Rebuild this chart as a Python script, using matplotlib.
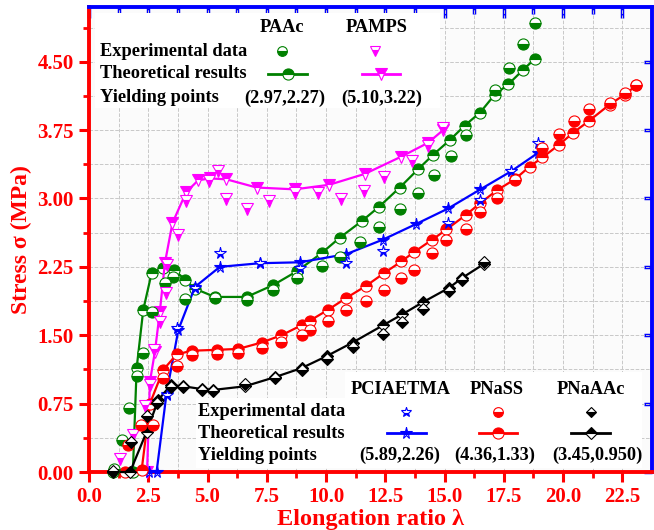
import matplotlib
matplotlib.use('Agg')
import matplotlib.pyplot as plt
from matplotlib.lines import Line2D
from matplotlib.patches import Rectangle

plt.rcParams['font.family'] = ['Liberation Serif', 'DejaVu Serif']
plt.rcParams['font.weight'] = 'bold'

# ---------------- data ----------------
# PAAc
paac_exp_x = [1.05, 1.40, 1.68, 2.01, 2.26, 2.64, 3.20, 3.55, 4.05, 5.31, 6.65, 7.77, 8.76, 9.81, 10.58,
              11.45, 12.24, 13.11, 13.88, 14.54, 15.25, 15.89, 17.12, 17.72, 18.31, 18.80]
paac_exp_y = [0.03, 0.35, 0.70, 1.05, 1.30, 1.75, 2.07, 2.14, 1.90, 1.91, 1.89, 2.00, 2.13, 2.26, 2.36,
              2.52, 2.69, 2.88, 3.06, 3.26, 3.47, 3.70, 4.19, 4.43, 4.69, 4.93]
paac_th_x = [1.00, 1.85, 2.01, 2.29, 2.64, 3.12, 3.58, 4.05, 4.47, 5.31, 6.65, 7.77, 8.76, 9.81, 10.58,
             11.50, 12.24, 13.11, 13.88, 14.52, 15.22, 15.85, 16.49, 17.12, 17.68, 18.31, 18.80]
paac_th_y = [0.00, 0.00, 1.14, 1.78, 2.18, 2.24, 2.22, 2.11, 2.01, 1.92, 1.92, 2.05, 2.20, 2.40, 2.57,
             2.75, 2.91, 3.12, 3.32, 3.48, 3.64, 3.80, 3.94, 4.14, 4.25, 4.41, 4.53]

# PAMPS
pamps_exp_x = [1.31, 1.87, 2.36, 2.57, 2.74, 2.99, 3.23, 3.27, 3.77, 4.11, 5.07, 5.45, 5.80, 6.65, 7.60,
               8.68, 9.67, 10.65, 11.61, 12.43, 13.64, 14.30, 14.94]
pamps_exp_y = [0.14, 0.41, 0.72, 0.95, 1.34, 1.65, 1.96, 2.27, 2.60, 2.97, 3.19, 3.30, 2.99, 2.88, 2.97,
               3.06, 3.06, 2.99, 3.08, 3.24, 3.41, 3.58, 3.77]
pamps_th_x = [2.45, 2.57, 2.78, 2.99, 3.20, 3.52, 4.10, 4.61, 5.10, 5.80, 7.07, 8.68, 10.13, 11.64, 13.18,
              14.30, 14.94]
pamps_th_y = [0.00, 0.99, 1.32, 1.76, 2.29, 2.73, 3.07, 3.20, 3.22, 3.21, 3.12, 3.10, 3.15, 3.27, 3.46,
              3.61, 3.75]

# PCIAETMA
pci_exp_x = [3.27, 3.70, 4.47, 5.52, 7.21, 8.90, 10.86, 12.41, 15.15, 16.51, 17.82, 18.94]
pci_exp_y = [0.85, 1.58, 2.02, 2.40, 2.29, 2.24, 2.29, 2.42, 2.73, 2.98, 3.30, 3.61]
pci_th_x = [2.55, 2.85, 3.27, 3.77, 4.47, 5.52, 7.21, 8.90, 10.86, 12.41, 13.80, 15.15, 16.51, 17.82, 18.94]
pci_th_y = [0.00, 0.00, 0.86, 1.56, 2.03, 2.25, 2.29, 2.30, 2.39, 2.55, 2.72, 2.89, 3.10, 3.30, 3.50]

# PNaSS
pnass_exp_x = [1.66, 2.19, 2.71, 3.13, 3.70, 4.33, 5.38, 6.30, 7.28, 8.12, 8.97, 9.32, 10.09, 10.86, 11.68,
               12.44, 13.18, 13.70, 14.49, 15.08, 15.90, 16.51, 17.21, 17.96, 19.13, 19.83, 20.45, 21.09,
               21.96, 22.60, 23.09]
pnass_exp_y = [0.30, 0.52, 0.52, 1.03, 1.16, 1.28, 1.29, 1.30, 1.36, 1.43, 1.50, 1.56, 1.66, 1.78, 1.88,
               2.00, 2.13, 2.22, 2.40, 2.55, 2.66, 2.85, 3.00, 3.20, 3.55, 3.71, 3.85, 3.98,
               4.05, 4.16, 4.24]
pnass_th_x = [1.50, 2.22, 2.57, 3.13, 3.70, 4.33, 5.38, 6.30, 7.28, 8.12, 8.97, 9.32, 10.09, 10.86, 11.68,
              12.44, 13.18, 13.70, 14.49, 15.08, 15.90, 16.51, 17.21, 17.96, 18.59, 19.13, 19.83, 20.42,
              21.09, 21.96, 22.60, 23.09]
pnass_th_y = [0.00, 0.02, 0.75, 1.12, 1.29, 1.33, 1.34, 1.35, 1.42, 1.50, 1.61, 1.66, 1.78, 1.91, 2.04,
              2.18, 2.31, 2.41, 2.55, 2.66, 2.82, 2.95, 3.09, 3.21, 3.35, 3.45, 3.59, 3.72,
              3.85, 4.03, 4.14, 4.24]

# PNaAAc
pnaaac_exp_x = [1.02, 1.77, 2.43, 2.85, 3.44, 3.98, 4.75, 5.24, 6.58, 7.84, 8.97, 10.02, 11.12, 12.41,
                13.22, 14.07, 15.19, 15.75, 16.65]
pnaaac_exp_y = [0.01, 0.33, 0.61, 0.76, 0.93, 0.93, 0.90, 0.89, 0.96, 1.03, 1.12, 1.24, 1.37, 1.51,
                1.64, 1.79, 1.98, 2.11, 2.30]
pnaaac_th_x = [1.02, 1.73, 2.43, 2.92, 3.44, 3.98, 4.75, 5.24, 6.58, 7.84, 8.97, 10.02, 11.12, 12.41,
               13.22, 14.07, 15.19, 15.75, 16.65]
pnaaac_th_y = [0.00, 0.00, 0.44, 0.79, 0.95, 0.94, 0.91, 0.90, 0.94, 1.04, 1.14, 1.27, 1.42, 1.61,
               1.73, 1.86, 2.02, 2.13, 2.28]

names = ['PAAc', 'PAMPS', 'PCIAETMA', 'PNaSS', 'PNaAAc']
colors = ['green', 'magenta', 'blue', 'red', 'black']
markers = ['o', 'v', '*', 'o', 'D']
yield_pts = ['(2.97,2.27)', '(5.10,3.22)', '(5.89,2.26)', '(4.36,1.33)', '(3.45,0.950)']

exp_sets = [(paac_exp_x, paac_exp_y), (pamps_exp_x, pamps_exp_y), (pci_exp_x, pci_exp_y),
            (pnass_exp_x, pnass_exp_y), (pnaaac_exp_x, pnaaac_exp_y)]
th_sets = [(paac_th_x, paac_th_y), (pamps_th_x, pamps_th_y), (pci_th_x, pci_th_y),
           (pnass_th_x, pnass_th_y), (pnaaac_th_x, pnaaac_th_y)]
msizes = [8, 8, 8.5, 8, 6.5]

W, H = 654, 530
fig = plt.figure(figsize=(W / 100, H / 100), dpi=100)
L, R, T, B = 89, 652, 7, 472
ax = fig.add_axes([L / W, 1 - B / H, (R - L) / W, (B - T) / H])
ax.set_facecolor('#fbfbfb')


def fxy(px, py):
    return px / W, 1 - py / H


# ---------------- curves ----------------
for i in range(5):
    c = colors[i]
    tx, ty = th_sets[i]
    ax.plot(tx, ty, '-', color=c, lw=1.6, marker=markers[i], ms=msizes[i], fillstyle='top',
            markerfacecoloralt='white', mec=c, mew=0.8, zorder=4, clip_on=False)
    ex, ey = exp_sets[i]
    ax.plot(ex, ey, ls='none', marker=markers[i], ms=msizes[i], fillstyle='bottom', color=c,
            markerfacecoloralt='white', mec=c, mew=0.8, zorder=5, clip_on=False)

ax.set_xlim(0, 23.75)
ax.set_ylim(0, 5.1)
ax.set_xticks([0, 2.5, 5, 7.5, 10, 12.5, 15, 17.5, 20, 22.5])
ax.set_xticks([1.25 + 2.5 * k for k in range(9)], minor=True)
ax.set_yticks([0, 0.75, 1.5, 2.25, 3.0, 3.75, 4.5])
ax.set_yticks([0.375 + 0.75 * k for k in range(7)], minor=True)
ax.set_xticklabels(['0.0', '2.5', '5.0', '7.5', '10.0', '12.5', '15.0', '17.5', '20.0', '22.5'])
ax.set_yticklabels(['0.00', '0.75', '1.50', '2.25', '3.00', '3.75', '4.50'])
ax.grid(True, which='both', ls='--', color='#c8c8c8', lw=0.7)
ax.set_axisbelow(True)

for s in ['left', 'bottom']:
    ax.spines[s].set_color('red')
    ax.spines[s].set_linewidth(2.8)
for s in ['top', 'right']:
    ax.spines[s].set_color('blue')
    ax.spines[s].set_linewidth(2.8)

ax.tick_params(which='major', direction='out', length=7, width=2.2, color='red',
               labelcolor='red', labelsize=15, pad=4)
ax.tick_params(which='minor', direction='out', length=4, width=2, color='red')
for lab in ax.get_xticklabels() + ax.get_yticklabels():
    lab.set_fontweight('bold')

# blue ticks on top/right
top = ax.secondary_xaxis('top')
top.set_xticks(ax.get_xticks())
top.set_xticks(ax.get_xticks(minor=True), minor=True)
top.tick_params(which='major', direction='in', length=8, width=2.5, color='blue', labeltop=False)
top.tick_params(which='minor', direction='in', length=5, width=2.5, color='blue')
top.spines['top'].set_visible(False)
rgt = ax.secondary_yaxis('right')
rgt.set_yticks(ax.get_yticks())
rgt.tick_params(which='major', direction='in', length=6, width=2.5, color='blue', labelright=False)
rgt.spines['right'].set_visible(False)

ax.set_ylabel('Stress σ (MPa)', color='red', fontsize=17, fontweight='bold', labelpad=4)
ax.set_xlabel('Elongation ratio λ', color='red', fontsize=17.5, fontweight='bold', labelpad=1)

# ---------------- legend tables ----------------
fig.patches.append(Rectangle(fxy(95, 108), 345 / W, 95 / H, transform=fig.transFigure,
                             facecolor='white', edgecolor='none', zorder=6))
fig.patches.append(Rectangle(fxy(196, 468), 446 / W, 70 / H, transform=fig.transFigure,
                             facecolor='white', edgecolor='none', zorder=6))
fig.patches.append(Rectangle(fxy(345, 400), 297 / W, 28 / H, transform=fig.transFigure,
                             facecolor='white', edgecolor='none', zorder=6))

tkw = dict(fontsize=13.2, fontweight='bold', color='black', zorder=8)
rows_top = [51, 74, 98]
rows_bot = [412, 433, 455]
row_names = ['Experimental data', 'Theoretical results', 'Yielding points']
for j in range(3):
    fig.text(*fxy(100, rows_top[j]), row_names[j], ha='left', va='center', **tkw)
    fig.text(*fxy(198, rows_bot[j]), row_names[j], ha='left', va='center', **tkw)

head_x = [282, 377, 401, 497, 591]
head_y = [28, 28, 389, 389, 389]
exp_mx = [282, 375, 406, 498, 591]
line_x = [(268, 307), (362, 400), (387, 426), (479, 517), (571, 610)]
th_mx = [288, 381, 406, 498, 591]
yld_x = [285, 382, 400, 495, 597]
for i in range(5):
    r = rows_top if i < 2 else rows_bot
    c = colors[i]
    fig.text(*fxy(head_x[i], head_y[i]), names[i], ha='center', va='center', **tkw)
    fig.text(*fxy(yld_x[i], r[2]), yield_pts[i], ha='center', va='center', **tkw)
    fig.lines.append(Line2D([fxy(exp_mx[i], 0)[0]], [fxy(0, r[0])[1]], transform=fig.transFigure,
                            ls='none', marker=markers[i], ms=msizes[i] - 1, fillstyle='bottom',
                            color=c, markerfacecoloralt='white', mec=c, mew=0.8, zorder=8))
    fig.lines.append(Line2D([fxy(line_x[i][0], 0)[0], fxy(line_x[i][1], 0)[0]], [fxy(0, r[1])[1]] * 2,
                            transform=fig.transFigure, color=c, lw=2, zorder=8))
    fig.lines.append(Line2D([fxy(th_mx[i], 0)[0]], [fxy(0, r[1])[1]], transform=fig.transFigure,
                            ls='none', marker=markers[i], ms=msizes[i], fillstyle='top',
                            color=c, markerfacecoloralt='white', mec=c, mew=0.8, zorder=9))

fig.savefig('out.png', dpi=100)
